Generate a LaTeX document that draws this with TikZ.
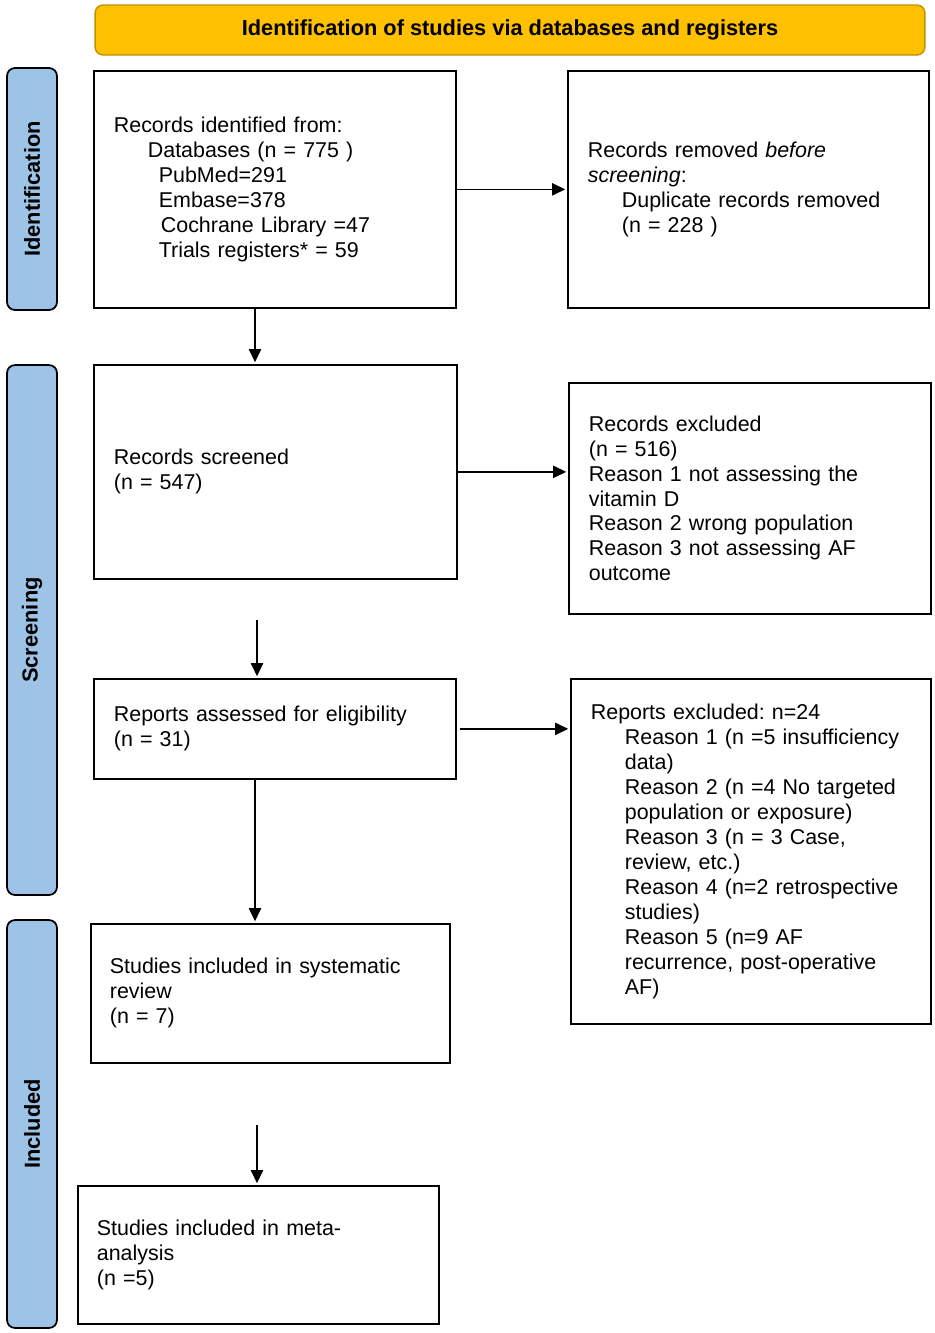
\documentclass[tikz,border=0pt]{standalone}
\usepackage{fontspec}
\setmainfont{Liberation Sans}
\usetikzlibrary{arrows.meta, positioning}
\definecolor{hdrfill}{HTML}{FFC000}
\definecolor{hdrline}{HTML}{C09000}
\definecolor{barfill}{HTML}{9DC3E6}
\frenchspacing

\begin{document}
\begin{tikzpicture}[x=0.02cm, y=-0.02cm,
            txt/.style={font=\fontsize{12.2}{14.2}\selectfont},
            box/.style={txt, draw, rectangle, line width=1pt, align=left, inner xsep=0.4cm, anchor=north west},
            phase/.style={draw, rectangle, rounded corners=0.16cm, fill=barfill, line width=1pt, rotate=90,
                minimum height=1cm, font=\fontsize{12.4}{14.2}\selectfont\bfseries},
            arr/.style={-{Triangle[length=7.5pt,width=7pt]}, line width=0.75pt, shorten >=1pt}]
            \useasboundingbox (0,0) rectangle (935,1333);

            % title and phases
            \node[draw=hdrline, fill=hdrfill, rounded corners=0.16cm, line width=0.8pt, minimum width=16.6cm,
                minimum height=1cm, font=\fontsize{12.4}{14.2}\selectfont\bfseries] (title) at (510,30)
                {Identification of studies via databases and registers};
            \node[phase, minimum width=4.84cm] (idbar) at (32,189) {Identification};
            \node[phase, minimum width=10.6cm] (scbar) at (32,630) {Screening};
            \node[phase, minimum width=8.16cm] (inbar) at (32,1124) {Included};

            % boxes
            \node[box, text width=6.44cm, minimum height=4.74cm] (ident) at (93,70) {Records identified from:\\
                \hspace*{0.68cm}Databases (n = 775 )\\
                \hspace*{0.9cm}PubMed=291\\
                \hspace*{0.9cm}Embase=378\\
                \hspace*{0.94cm}Cochrane Library =47\\
                \hspace*{0.9cm}Trials registers* = 59};
            \node[box, text width=6.42cm, minimum height=4.74cm] (removed) at (567,70) {Records removed \textit{before}\\
                \textit{screening}:\\
                \hspace*{0.68cm}Duplicate records removed\\
                \hspace*{0.68cm}(n = 228 )};
            \node[box, text width=6.46cm, minimum height=4.28cm] (screened) at (93,364) {Records screened\\(n = 547)};
            \node[box, text width=6.44cm, minimum height=4.62cm] (excluded) at (568,382) {Records excluded\\
                (n = 516)\\
                Reason 1 not assessing the\\
                vitamin D\\
                Reason 2 wrong population\\
                Reason 3 not assessing AF\\
                outcome};
            \node[box, text width=6.44cm, minimum height=2cm] (assessed) at (93,678) {Reports assessed for eligibility\\(n = 31)};
            \node[box, text width=6.4cm, minimum height=6.9cm] (repexcl) at (570,678) {Reports excluded: n=24\\
                \hspace*{0.68cm}Reason 1 (n =5 insufficiency\\
                \hspace*{0.68cm}data)\\
                \hspace*{0.68cm}Reason 2 (n =4 No targeted\\
                \hspace*{0.68cm}population or exposure)\\
                \hspace*{0.68cm}Reason 3 (n = 3 Case,\\
                \hspace*{0.68cm}review, etc.)\\
                \hspace*{0.68cm}Reason 4 (n=2 retrospective\\
                \hspace*{0.68cm}studies)\\
                \hspace*{0.68cm}Reason 5 (n=9 AF\\
                \hspace*{0.68cm}recurrence, post-operative\\
                \hspace*{0.68cm}AF)};
            \node[box, text width=6.42cm, minimum height=2.78cm, inner xsep=0.38cm] (sr) at (90,923) {Studies included in systematic\\review\\(n = 7)};
            \node[box, text width=6.46cm, minimum height=2.76cm, inner xsep=0.38cm] (meta) at (77,1185) {Studies included in meta-\\analysis\\(n =5)};

            % arrows
            \coordinate (c1) at (255,0);
            \coordinate (s1) at (257,620);
            \coordinate (s2) at (257,1125);
            \draw[arr] (ident) -- (removed);
            \draw[arr] (ident.south -| c1) -- (screened.north -| c1);
            \draw[arr] (screened.east) -- (screened.east -| excluded.west);
            \draw[arr] (s1) -- (s1 |- assessed.north);
            \draw[arr] ([xshift=0.06cm]assessed.east) -- (assessed.east -| repexcl.west);
            \draw[arr] (assessed.south -| c1) -- (sr.north -| c1);
            \draw[arr] (s2) -- (s2 |- meta.north);
        \end{tikzpicture}
\end{document}
